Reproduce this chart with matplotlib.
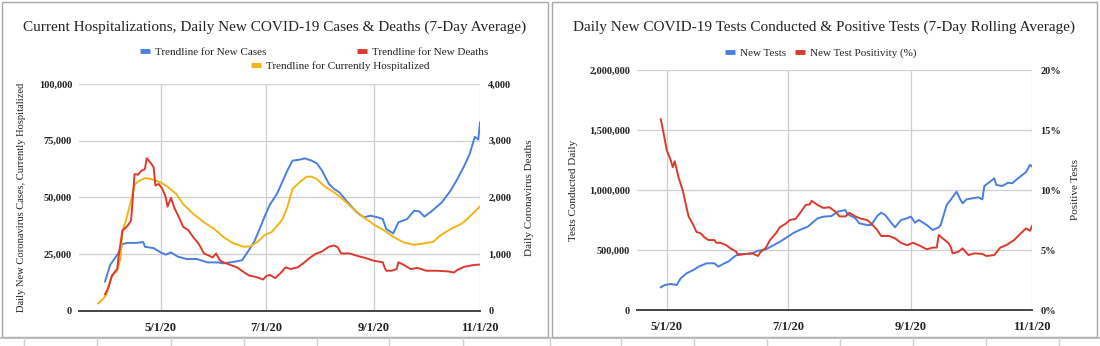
import numpy as np
import pandas as pd
import matplotlib
matplotlib.use('Agg')
import matplotlib.pyplot as plt
from matplotlib.lines import Line2D
from matplotlib.patches import Rectangle

plt.rcParams['font.family'] = ['Liberation Serif', 'DejaVu Serif']

# ---- data (day offsets are counted from 5/1/2020) ----
case_days = [-32, -29, -26, -24, -22, -19, -14, -10, -9, -4, 0, 3, 6, 10, 15, 21,
             27, 33, 36, 40, 44, 47, 50, 54, 57, 61, 63, 67, 70, 73, 76, 80, 83,
             87, 90, 93, 97, 100, 103, 107, 113, 117, 121, 125, 128, 130, 134,
             137, 142, 146, 149, 152, 156, 162, 167, 171, 175, 178, 181, 183, 184]
new_cases = [12900, 20300, 23500, 25700, 29400, 29900, 29900, 30300, 28200, 27600,
             25700, 24700, 25700, 23800, 22800, 22800, 21300, 21300, 20900, 21300,
             21800, 22300, 25700, 30500, 36000, 43500, 46800, 51500, 56600, 61800,
             66200, 66600, 67200, 66200, 65000, 61800, 55900, 53700, 52200, 48500,
             43400, 41200, 41900, 41200, 40400, 36000, 34100, 39000, 40400, 44100,
             43800, 41500, 43800, 47800, 52900, 58100, 64000, 69000, 76700, 75500,
             83000]

death_days = [-32, -30, -28, -25, -24, -22, -19, -17, -15, -13, -11, -9, -8, -6, -4,
              -3, -1, 1, 3, 4, 6, 8, 11, 13, 16, 19, 22, 25, 28, 30, 32, 34, 36, 40,
              44, 48, 51, 55, 59, 61, 63, 66, 69, 72, 75, 79, 83, 85, 89, 93, 97,
              100, 102, 104, 109, 113, 118, 123, 128, 129, 130, 133, 136, 137, 140,
              144, 148, 153, 159, 165, 169, 171, 175, 180, 184]
new_deaths = [290, 410, 620, 735, 1000, 1410, 1500, 1590, 2410, 2400, 2470, 2500,
              2690, 2620, 2530, 2210, 2235, 2150, 2000, 1835, 1990, 1810, 1620, 1480,
              1420, 1290, 1180, 1010, 970, 940, 1010, 895, 855, 810, 765, 680, 620,
              595, 550, 615, 630, 575, 660, 765, 735, 765, 855, 910, 1000, 1045, 1130,
              1150, 1120, 1010, 1010, 970, 930, 880, 855, 765, 705, 705, 735, 855, 810,
              735, 755, 705, 705, 695, 675, 720, 775, 805, 815]

hosp_days = [-36, -33, -31, -30, -28, -25, -23, -22, -20, -17, -15, -13, -9, -6, 0,
             4, 9, 13, 19, 25, 31, 36, 42, 48, 52, 56, 60, 64, 70, 73, 76, 80, 84,
             87, 90, 94, 100, 106, 111, 117, 123, 129, 134, 140, 146, 152, 157, 161,
             167, 173, 176, 184]
hospitalized = [3200, 5200, 7400, 11000, 15400, 17700, 23500, 35300, 39700, 48500,
                55600, 57000, 58500, 58200, 56600, 54700, 51500, 47000, 42600, 39000,
                36000, 32600, 29700, 28200, 28400, 30500, 33400, 34700, 40000, 45600,
                53700, 56600, 59100, 59100, 58100, 55100, 52200, 48500, 44900, 41200,
                37900, 35300, 32600, 30100, 29100, 29700, 30400, 33100, 36000, 38200,
                40000, 46000]

test_days = [-3, -1, 2, 5, 7, 10, 14, 16, 20, 24, 26, 29, 31, 34, 36, 40, 43, 46, 50,
             54, 57, 61, 64, 67, 71, 73, 76, 79, 83, 86, 90, 91, 95, 97, 101, 103,
             106, 108, 110, 113, 115, 118, 121, 123, 125, 127, 131, 134, 137, 138,
             141, 143, 146, 148, 149, 151, 154, 157, 159, 160, 165, 166, 169, 172,
             174, 178, 181, 183, 184]
new_tests = [189000, 208000, 217000, 208000, 264000, 306000, 339000, 361000, 389000,
             389000, 361000, 389000, 403000, 444000, 467000, 467000, 472000, 494000,
             506000, 542000, 569000, 611000, 644000, 667000, 694000, 722000, 764000,
             778000, 783000, 819000, 833000, 800000, 764000, 722000, 708000, 708000,
             783000, 811000, 792000, 728000, 689000, 750000, 764000, 778000, 728000,
             750000, 708000, 667000, 689000, 708000, 875000, 917000, 986000, 917000,
             889000, 922000, 931000, 939000, 922000, 1033000, 1097000, 1042000,
             1033000, 1061000, 1056000, 1111000, 1150000, 1210000, 1195000]

pos_days = [-3, -1, 0, 2, 3, 4, 5, 6, 8, 10, 11, 13, 15, 17, 19, 21, 24, 25, 27, 30,
            32, 35, 36, 40, 43, 46, 47, 50, 52, 55, 57, 60, 62, 65, 67, 70, 72, 73,
            76, 79, 81, 82, 85, 87, 90, 92, 95, 98, 101, 103, 106, 108, 112, 115,
            118, 121, 124, 127, 131, 134, 136, 137, 139, 142, 143, 144, 147, 149,
            152, 155, 159, 161, 165, 168, 171, 175, 178, 181, 183, 184]
positivity = [15.9, 14.2, 13.3, 12.5, 11.9, 12.4, 11.7, 11.0, 10.0, 8.5, 7.8, 7.2,
              6.5, 6.4, 6.05, 5.83, 5.83, 5.6, 5.6, 5.4, 5.14, 4.86, 4.58, 4.67, 4.72,
              4.5, 4.78, 5.2, 5.83, 6.4, 6.9, 7.2, 7.5, 7.6, 8.05, 8.75, 8.8, 9.1,
              8.75, 8.5, 8.55, 8.55, 8.2, 7.8, 7.8, 8.1, 7.8, 7.6, 7.5, 7.2, 6.67,
              6.17, 6.17, 5.97, 5.6, 5.4, 5.6, 5.4, 5.06, 5.2, 5.2, 6.25, 5.97, 5.56,
              5.28, 4.72, 4.86, 5.14, 4.58, 4.72, 4.67, 4.5, 4.58, 5.2, 5.4, 5.83,
              6.33, 6.8, 6.6, 7.0]

tick_dates = ['2020-05-01', '2020-07-01', '2020-09-01', '2020-11-01']
tick_labels = ['5/1/20', '7/1/20', '9/1/20', '11/1/20']

BLUE = '#4a7fe0'
RED = '#db3a2c'
YELLOW = '#f3b415'
GRID = '#cfcfcf'
TXT = '#222222'

base = pd.Timestamp('2020-05-01')


def to_dates(days):
    return base + pd.to_timedelta(days, unit='D')


W, H = 1100, 346
fig = plt.figure(figsize=(W / 100, H / 100), dpi=100)


def px_axes(x0, x1, ytop, ybot):
    return fig.add_axes([x0 / W, 1 - ybot / H, (x1 - x0) / W, (ybot - ytop) / H])


def style_axes(ax, xmin):
    ax.set_xlim(pd.Timestamp(xmin), pd.Timestamp('2020-11-01'))
    ax.set_xticks(pd.to_datetime(tick_dates))
    ax.set_xticklabels(tick_labels, fontsize=9, fontweight='bold', color=TXT)
    ax.grid(True, color=GRID, lw=0.9)
    ax.set_axisbelow(True)
    for s in ['top', 'left', 'right']:
        ax.spines[s].set_visible(False)
    ax.spines['bottom'].set_color('#444444')
    ax.spines['bottom'].set_linewidth(1.4)
    ax.spines['bottom'].set_zorder(5)
    ax.tick_params(length=0, pad=5)
    ax.tick_params(axis='x', pad=8)
    for lab in ax.get_yticklabels():
        lab.set_fontsize(7.5)
        lab.set_fontweight('bold')
        lab.set_color(TXT)


def style_twin(ax2):
    for s in ax2.spines.values():
        s.set_visible(False)
    ax2.tick_params(length=0, pad=6)
    for lab in ax2.get_yticklabels():
        lab.set_fontsize(7.5)
        lab.set_fontweight('bold')
        lab.set_color(TXT)


def handle(c):
    return Line2D([], [], color=c, lw=3.5, solid_capstyle='butt')


def add_legend(handles, labels, x, y, spacing):
    leg = fig.legend(handles, labels, loc='center left',
                     bbox_to_anchor=(x / W, 1 - y / H), ncol=len(labels),
                     frameon=False, fontsize=8, handlelength=0.9,
                     handletextpad=0.45, columnspacing=spacing, borderpad=0,
                     borderaxespad=0)
    for t in leg.get_texts():
        t.set_color(TXT)
    return leg


# ---------- left chart ----------
ax1 = px_axes(79, 480, 84, 310.7)
ax1.plot(to_dates(case_days), new_cases, color=BLUE, lw=1.4, zorder=3)
ax1.plot(to_dates(hosp_days), hospitalized, color=YELLOW, lw=1.4, zorder=3)
ax1.set_ylim(0, 100000)
ax1.set_yticks([0, 25000, 50000, 75000, 100000])
ax1.set_yticklabels(['0', '25,000', '50,000', '75,000', '100,000'])
style_axes(ax1, '2020-03-15')
ax1.set_ylabel('Daily New Coronavirus Cases, Currently Hospitalized',
               fontsize=7.6, color=TXT)
ax1.yaxis.set_label_coords((22 - 79) / 401, 0.5)
ax1.yaxis.label.set_verticalalignment('center')

ax1b = ax1.twinx()
ax1b.plot(to_dates(death_days), new_deaths, color=RED, lw=1.4, zorder=3)
ax1b.set_ylim(0, 4000)
ax1b.set_yticks([0, 1000, 2000, 3000, 4000])
ax1b.set_yticklabels(['0', '1,000', '2,000', '3,000', '4,000'])
style_twin(ax1b)
ax1b.set_ylabel('Daily Coronavirus Deaths', fontsize=8, color=TXT)
ax1b.yaxis.set_label_coords((529 - 79) / 401, 0.5)
ax1b.yaxis.label.set_verticalalignment('center')

fig.text(275 / W, 1 - 27 / H,
         'Current Hospitalizations, Daily New COVID-19 Cases & Deaths (7-Day Average)',
         ha='center', va='center', fontsize=11, color=TXT)

add_legend([handle(BLUE), handle(RED)],
           ['Trendline for New Cases', 'Trendline for New Deaths'], 140, 52, 8.2)
add_legend([handle(YELLOW)], ['Trendline for Currently Hospitalized'], 251, 66, 1)

# ---------- right chart ----------
ax2 = px_axes(637, 1032, 70, 310)
ax2.plot(to_dates(test_days), new_tests, color=BLUE, lw=1.4, zorder=3)
ax2.set_ylim(0, 2000000)
ax2.set_yticks([0, 500000, 1000000, 1500000, 2000000])
ax2.set_yticklabels(['0', '500,000', '1,000,000', '1,500,000', '2,000,000'])
style_axes(ax2, '2020-04-16')
ax2.set_ylabel('Tests Conducted Daily', fontsize=8, color=TXT)
ax2.yaxis.set_label_coords((573 - 637) / 395, 0.5)
ax2.yaxis.label.set_verticalalignment('center')

ax2b = ax2.twinx()
ax2b.plot(to_dates(pos_days), positivity, color=RED, lw=1.4, zorder=3)
ax2b.set_ylim(0, 20)
ax2b.set_yticks([0, 5, 10, 15, 20])
ax2b.set_yticklabels(['0%', '5%', '10%', '15%', '20%'])
style_twin(ax2b)
ax2b.set_ylabel('Positive Tests', fontsize=8, color=TXT)
ax2b.yaxis.set_label_coords((1075 - 637) / 395, 0.5)
ax2b.yaxis.label.set_verticalalignment('center')

fig.text(824 / W, 1 - 27 / H,
         'Daily New COVID-19 Tests Conducted & Positive Tests (7-Day Rolling Average)',
         ha='center', va='center', fontsize=11, color=TXT)

add_legend([handle(BLUE), handle(RED)], ['New Tests', 'New Test Positivity (%)'],
           725, 53, 0.8)

# ---------- panel frames and sheet grid below ----------
for x0, x1 in [(2, 548), (552, 1097)]:
    fig.patches.append(Rectangle((x0 / W, 1 - 337 / H), (x1 - x0) / W, 335 / H,
                                 transform=fig.transFigure, fill=False,
                                 edgecolor='#a8a8a8', lw=1.0))
fig.add_artist(Line2D([0, 1], [1 - 338 / H, 1 - 338 / H], transform=fig.transFigure,
                      color='#b5b5b5', lw=1.2))
for cx in [24, 97, 171, 244, 317, 389, 463, 550, 621, 694, 767, 840, 913, 986, 1059]:
    fig.add_artist(Line2D([cx / W, cx / W], [0, 1 - 338 / H], transform=fig.transFigure,
                          color='#d0d0d0', lw=1.0))

fig.savefig('out.png', dpi=100)
